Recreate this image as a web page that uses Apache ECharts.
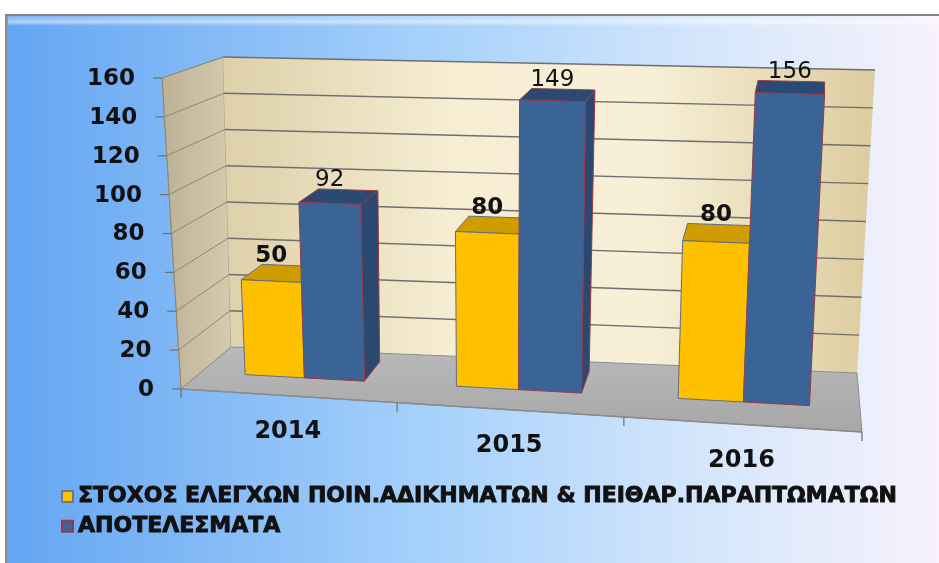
<!DOCTYPE html>
<html>
<head>
<meta charset="utf-8">
<script src="https://cdn.jsdelivr.net/npm/echarts@6/dist/echarts.min.js"></script>
<style>
  html, body { margin: 0; padding: 0; background: #fff; }
  #chart { width: 939px; height: 563px; }
</style>
</head>
<body>
<div id="chart"></div>
<script>
const categories = ['2014', '2015', '2016'];
const targetValues = [50, 80, 80];
const resultValues = [92, 149, 156];
const yTicks = [0, 20, 40, 60, 80, 100, 120, 140, 160];
const seriesNames = ['ΣΤΟΧΟΣ ΕΛΕΓΧΩΝ ΠΟΙΝ.ΑΔΙΚΗΜΑΤΩΝ & ΠΕΙΘΑΡ.ΠΑΡΑΠΤΩΜΑΤΩΝ', 'ΑΠΟΤΕΛΕΣΜΑΤΑ'];

// screen corners of the 3d box (front plane / back plane)
const box = {
  f: { bl: [181, 389], br: [862, 432], tl: [162, 78], tr: [880, 100] },
  b: { bl: [231, 347], br: [857, 373], tl: [223, 57], tr: [875, 70] }
};
const PERSP = 0.93;          // horizontal foreshortening (right side is nearer)
const DF = 0.4, DB = 0.82;   // bar depth range
const BAR_FRAC = 0.285;      // bar width as part of the band
const FONT = 'DejaVu Sans';

function lerp(a, b, t) { return a + (b - a) * t; }
function lerp2(p, q, t) { return [lerp(p[0], q[0], t), lerp(p[1], q[1], t)]; }
function facePt(f, u, v) {
  return lerp2(lerp2(f.bl, f.br, u), lerp2(f.tl, f.tr, u), v);
}
function proj(u, v, d) {
  const g = PERSP * u / (1 + (PERSP - 1) * u);
  return lerp2(facePt(box.f, g, v), facePt(box.b, g, v), d);
}

function normU(cs, px) { return (px - cs.x) / cs.width; }
function normV(cs, py) { return (cs.y + cs.height - py) / cs.height; }

function poly(pts, style) {
  return { type: 'polygon', shape: { points: pts }, style: style, silent: true };
}
function line(p, q, stroke, w) {
  return { type: 'line', shape: { x1: p[0], y1: p[1], x2: q[0], y2: q[1] },
    style: { stroke: stroke, lineWidth: w }, silent: true };
}
function text(x, y, str, weight, size, align, vAlign) {
  return { type: 'text', x: x, y: y, silent: true,
    style: { text: str, fontFamily: FONT, fontWeight: weight, fontSize: size, fill: '#111',
      align: align, verticalAlign: vAlign } };
}

function renderFrame(params, api) {
  const cs = params.coordSys;
  const ch = [];
  // walls and floor
  ch.push(poly([proj(0, 0, 0), proj(0, 1, 0), proj(0, 1, 1), proj(0, 0, 1)], {
    fill: new echarts.graphic.LinearGradient(0, 0, 1, 0, [
      { offset: 0, color: '#bab196' }, { offset: 1, color: '#d5ccb0' }]),
    stroke: '#a59d86', lineWidth: 1 }));
  ch.push(poly([proj(0, 0, 1), proj(1, 0, 1), proj(1, 1, 1), proj(0, 1, 1)], {
    fill: new echarts.graphic.LinearGradient(0, 0, 1, 0, [
      { offset: 0, color: '#ddd0a9' }, { offset: 0.35, color: '#f6edd3' },
      { offset: 0.65, color: '#f7efd7' }, { offset: 1, color: '#dccc9f' }]) }));
  ch.push(poly([proj(0, 0, 0), proj(1, 0, 0), proj(1, 0, 1), proj(0, 0, 1)], {
    fill: new echarts.graphic.LinearGradient(0, 1, 0, 0, [
      { offset: 0, color: '#a7a7a7' }, { offset: 1, color: '#b9b9b9' }]),
    stroke: '#8e8e8e', lineWidth: 1 }));
  // gridlines, ticks and tick labels
  yTicks.forEach(t => {
    const v = normV(cs, api.coord([0, t])[1]);
    if (t > 0) {
      ch.push(line(proj(0, v, 1), proj(1, v, 1), '#6f6f6f', 1.3));
      ch.push(line(proj(0, v, 0), proj(0, v, 1), '#8d8670', 1));
    }
    const p = proj(0, v, 0);
    ch.push(line([p[0] - 9, p[1]], p, '#6f6f6f', 1.2));
    ch.push(text(p[0] - 27, p[1] + 1, String(t), 'bold', 23, 'right', 'middle'));
  });
  ch.push(line(proj(0, 0, 0), proj(0, 1, 0), '#8d8670', 1));
  ch.push(line(proj(0, 0, 0), proj(1, 0, 0), '#8a8a8a', 1.5));
  // category ticks and labels
  for (let k = 0; k <= categories.length; k++) {
    const p = proj(k / categories.length, 0, 0);
    ch.push(line(p, [p[0], p[1] + 9], '#6f6f6f', 1.2));
  }
  categories.forEach((c, i) => {
    const p = proj(normU(cs, api.coord([i, 0])[0]), 0, 0);
    ch.push(text(p[0], p[1] + 36, c, 'bold', 24, 'center', 'middle'));
  });
  return { type: 'group', children: ch };
}

function barRender(side, col) {
  return function (params, api) {
    const cs = params.coordSys;
    const c = api.coord([api.value(0), api.value(1)]);
    const base = api.coord([api.value(0), 0]);
    const w = api.size([1, 0])[0] * BAR_FRAC;
    const x0 = side === 0 ? c[0] - w : c[0];
    const u0 = normU(cs, x0), u1 = normU(cs, x0 + w);
    const v0 = normV(cs, base[1]), v1 = normV(cs, c[1]);
    const ch = [];
    const edge = { stroke: col.edge, lineWidth: 1 };
    if (proj(u1, v1, DB)[0] > proj(u1, v1, DF)[0] + 0.5) {
      ch.push(poly([proj(u1, v0, DF), proj(u1, v0, DB), proj(u1, v1, DB), proj(u1, v1, DF)],
        Object.assign({ fill: col.side }, edge)));
    }
    if (proj(u0, v1, DB)[0] < proj(u0, v1, DF)[0] - 0.5) {
      ch.push(poly([proj(u0, v0, DF), proj(u0, v0, DB), proj(u0, v1, DB), proj(u0, v1, DF)],
        Object.assign({ fill: col.side }, edge)));
    }
    ch.push(poly([proj(u0, v1, DF), proj(u1, v1, DF), proj(u1, v1, DB), proj(u0, v1, DB)],
      Object.assign({ fill: col.top }, edge)));
    ch.push(poly([proj(u0, v0, DF), proj(u1, v0, DF), proj(u1, v1, DF), proj(u0, v1, DF)],
      Object.assign({ fill: col.front }, edge)));
    const lx = proj((u0 + u1) / 2, v1, DF)[0];
    const ly = proj((u0 + u1) / 2, v1, DB)[1];
    ch.push(text(lx, ly + 2, String(api.value(1)), col.weight, 23, 'center', 'bottom'));
    return { type: 'group', children: ch };
  };
}

const yellow = { front: '#ffc000', top: '#cf9d00', side: '#c79600', edge: '#5f6f80', weight: 'bold' };
const blue = { front: '#3b6496', top: '#2b4a73', side: '#2a4870', edge: '#9a3a48', weight: 'normal' };

const chart = echarts.init(document.getElementById('chart'));
chart.setOption({
  animation: false,
  graphic: [
    { type: 'rect', z: -10, shape: { x: 6, y: 14, width: 940, height: 560 },
      style: { fill: new echarts.graphic.LinearGradient(0, 0, 1, 0, [
        { offset: 0, color: '#64a5f2' }, { offset: 0.45, color: '#a6d1fb' },
        { offset: 0.75, color: '#d6e7fb' }, { offset: 1, color: '#f8f2fc' }]) } },
    { type: 'rect', z: -9, shape: { x: 8, y: 16, width: 940, height: 10 },
      style: { fill: new echarts.graphic.LinearGradient(0, 0, 0, 1, [
        { offset: 0, color: 'rgba(255,255,255,0.15)' }, { offset: 0.6, color: 'rgba(255,255,255,0.5)' },
        { offset: 1, color: 'rgba(255,255,255,0)' }]) } },
    { type: 'line', z: -8, shape: { x1: 6, y1: 15, x2: 939, y2: 15 },
      style: { stroke: '#858585', lineWidth: 2 } },
    { type: 'line', z: -8, shape: { x1: 6, y1: 14, x2: 6, y2: 563 },
      style: { stroke: '#8a8a8a', lineWidth: 2 } }
  ],
  grid: { left: 181, right: 77, top: 78, bottom: 174 },
  xAxis: { type: 'category', data: categories, show: false },
  yAxis: { type: 'value', min: 0, max: 160, interval: 20, show: false },
  legend: {
    data: seriesNames, orient: 'vertical', left: 56, top: 480,
    icon: 'rect', itemWidth: 11, itemHeight: 11, itemGap: 7,
    textStyle: { color: '#111', fontWeight: 'bold', fontSize: 22, fontFamily: FONT,
      textBorderColor: '#111', textBorderWidth: 0.9 },
    selectedMode: false
  },
  series: [
    { type: 'custom', name: 'frame', z: 1, silent: true, renderItem: renderFrame,
      data: [[0, 0]], encode: { x: 0, y: 1 } },
    { type: 'custom', name: seriesNames[0], z: 2, renderItem: barRender(0, yellow),
      itemStyle: { color: yellow.front, borderColor: '#6f7a88', borderWidth: 1 },
      data: categories.map((c, i) => [i, targetValues[i]]), encode: { x: 0, y: 1 } },
    { type: 'custom', name: seriesNames[1], z: 3, renderItem: barRender(1, blue),
      itemStyle: { color: blue.front, borderColor: '#9a3a48', borderWidth: 1 },
      data: categories.map((c, i) => [i, resultValues[i]]), encode: { x: 0, y: 1 } }
  ]
});
</script>
</body>
</html>
